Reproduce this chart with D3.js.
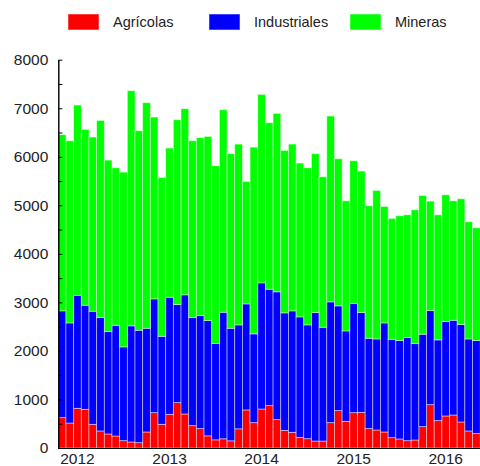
<!DOCTYPE html>
<html>
<head>
<meta charset="utf-8">
<script src="https://cdn.jsdelivr.net/npm/d3@7"></script>
<style>
  body { margin: 0; background: #fff; }
  svg { display: block; font-family: "Liberation Sans", Arial, sans-serif; }
  .axis text { fill: #222; font-size: 15.5px; }
  .axis path, .axis line { stroke: #000; }
</style>
</head>
<body>
<div id="chart"></div>
<script>
// months (Nov 2011 .. May 2016)
var months = [
  "2011-11","2011-12",
  "2012-01","2012-02","2012-03","2012-04","2012-05","2012-06","2012-07","2012-08","2012-09","2012-10","2012-11","2012-12",
  "2013-01","2013-02","2013-03","2013-04","2013-05","2013-06","2013-07","2013-08","2013-09","2013-10","2013-11","2013-12",
  "2014-01","2014-02","2014-03","2014-04","2014-05","2014-06","2014-07","2014-08","2014-09","2014-10","2014-11","2014-12",
  "2015-01","2015-02","2015-03","2015-04","2015-05","2015-06","2015-07","2015-08","2015-09","2015-10","2015-11","2015-12",
  "2016-01","2016-02","2016-03","2016-04","2016-05"
];
var agricolas = [
  625, 515,
  818, 797, 488, 351, 289, 247, 151, 124, 110, 330, 728, 488,
  694, 935, 701, 460, 399, 250, 168, 190, 148, 395, 784, 522,
  804, 873, 584, 364, 323, 220, 192, 144, 144, 522, 770, 550,
  728, 735, 399, 371, 330, 213, 186, 151, 165, 440, 893, 564,
  660, 680, 536, 351, 296
];
var industriales = [
  2200, 2062,
  2323, 2145, 2330, 2336, 2110, 2282, 1932, 2392, 2316, 2137, 2344, 1814,
  2413, 2020, 2454, 2227, 2330, 2375, 1983, 2607, 2319, 2141, 2185, 1829,
  2598, 2399, 2633, 2420, 2502, 2481, 2344, 2646, 2344, 2488, 2158, 1862,
  2248, 2055, 1862, 1876, 2247, 2028, 2027, 2124, 1986, 1904, 1939, 1663,
  1945, 1952, 2007, 1896, 1917
];
var mineras = [
  3629, 3753,
  3924, 3622, 3588, 4062, 3532, 3244, 3601, 4845, 4110, 4647, 3746, 3272,
  3072, 3808, 3835, 3643, 3663, 3794, 3664, 4172, 3595, 3725, 2523, 3848,
  3883, 3429, 3677, 3347, 3436, 3169, 3237, 3272, 3100, 3829, 3031, 2681,
  2942, 2915, 2729, 3059, 2399, 2488, 2571, 2529, 2756, 2859, 2254, 2577,
  2612, 2461, 2591, 2413, 2323
];
var seriesNames = ["Agrícolas", "Industriales", "Mineras"];
var seriesColors = ["#ff0000", "#0000ff", "#00ff00"];
var yearTicks = ["2012-01", "2013-01", "2014-01", "2015-01", "2016-01"];
var yTicks = [0, 1000, 2000, 3000, 4000, 5000, 6000, 7000, 8000];

var width = 480, height = 466;
var margin = { top: 59.7, bottom: 18, left: 58.3, right: -0.2 };

var svg = d3.select("#chart").append("svg")
    .attr("width", width)
    .attr("height", height);

var data = months.map(function (m, i) {
    return { month: m, "Agrícolas": agricolas[i], "Industriales": industriales[i], "Mineras": mineras[i] };
});
var stacked = d3.stack().keys(seriesNames)(data);

var xScale = d3.scaleBand().domain(months).range([margin.left, width - margin.right]).padding(0);
var yScale = d3.scaleLinear().domain([0, 8000]).range([height - margin.bottom, margin.top]);
var color = d3.scaleOrdinal().domain(seriesNames).range(seriesColors);

// bars
svg.append("g").attr("class", "bars")
  .selectAll("g").data(stacked).enter().append("g")
    .attr("fill", function (d) { return color(d.key); })
  .selectAll("rect").data(function (d) { return d; }).enter().append("rect")
    .attr("x", function (d) { return xScale(d.data.month); })
    .attr("y", function (d) { return yScale(d[1]); })
    .attr("width", xScale.bandwidth())
    .attr("height", function (d) { return yScale(d[0]) - yScale(d[1]); })
    .attr("stroke", "#fff")
    .attr("stroke-opacity", 0.55)
    .attr("stroke-width", 0.8);

// y axis, ticks point inwards
var yMinor = d3.range(500, 8000, 1000);
svg.append("g")
    .attr("class", "axis axis-y")
    .attr("transform", "translate(" + margin.left + ",0)")
    .call(d3.axisLeft(yScale).tickValues(yMinor).tickSizeInner(-4).tickSizeOuter(0).tickFormat(""));
svg.append("g")
    .attr("class", "axis axis-y")
    .attr("transform", "translate(" + margin.left + ",0)")
    .call(d3.axisLeft(yScale).tickValues(yTicks).tickSizeInner(-4).tickSizeOuter(0).tickPadding(10).tickFormat(d3.format("d")));

// x axis, only year labels
var xAxis = svg.append("g")
    .attr("class", "axis axis-x")
    .attr("transform", "translate(0," + (height - margin.bottom) + ")")
    .call(d3.axisBottom(xScale).tickValues(yearTicks).tickSize(0).tickPadding(5)
        .tickFormat(function (d) { return d.slice(0, 4); }));
xAxis.select(".domain").attr("d", "M" + margin.left + ",0.5H" + width);

// legend
var legend = svg.append("g").attr("class", "legend")
  .selectAll("g").data(seriesNames).enter().append("g")
    .attr("transform", function (d, i) { return "translate(" + (68 + i * 141) + ",14)"; });
legend.append("rect")
    .attr("width", 31)
    .attr("height", 16)
    .attr("fill", function (d) { return color(d); })
    .attr("stroke", "#fff")
    .attr("stroke-opacity", 0.5);
legend.append("text")
    .attr("x", 45)
    .attr("y", 13)
    .attr("fill", "#222")
    .style("font-size", "14.5px")
    .text(function (d) { return d; });
</script>
</body>
</html>
